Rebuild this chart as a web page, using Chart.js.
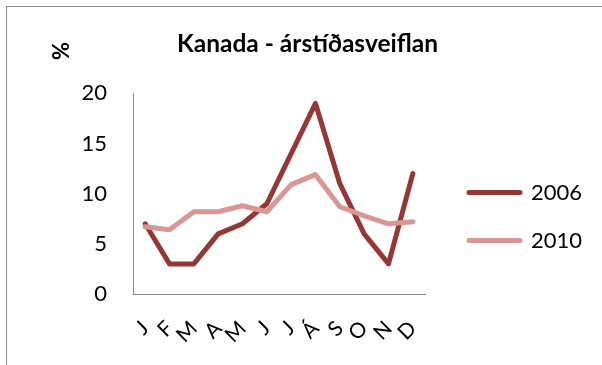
<!DOCTYPE html>
<html>
<head>
<meta charset="utf-8">
<script src="https://cdn.jsdelivr.net/npm/chart.js@4.4.1/dist/chart.umd.min.js"></script>
<style>
  html, body { margin: 0; padding: 0; background: #fff; overflow: hidden; }
  #wrap { position: relative; width: 602px; height: 365px; overflow: hidden; }
  #frame { position: absolute; left: 6px; top: 6px; width: 700px; height: 500px;
           border: 1px solid #8c8c8c; box-sizing: border-box; }
  #c { position: absolute; left: 0; top: 0; }
</style>
</head>
<body>
<div id="wrap">
  <div id="frame"></div>
  <canvas id="c" width="602" height="365"></canvas>
</div>
<script>
// Monthly share of the year's arrivals, in percent
const months = ['J', 'F', 'M', 'A', 'M', 'J', 'J', 'Á', 'S', 'O', 'N', 'D'];
const values2006 = [7, 3, 3, 6, 7, 9, 14, 19, 11, 6, 3, 12];
const values2010 = [6.7, 6.4, 8.2, 8.2, 8.8, 8.2, 10.9, 11.9, 8.7, 7.8, 7.0, 7.2];
const yTickValues = [0, 5, 10, 15, 20];

const FONT = 'Lato, "Open Sans", sans-serif';
const COLOR_2006 = '#953735';
const COLOR_2010 = '#d99694';
const AXIS_COLOR = '#898989';

// Rotated unit label above the value axis, and a nudge for the legend block
const extras = {
  id: 'extras',
  afterLayout(chart) {
    const lg = chart.legend;
    if (!lg) return;
    const dx = 18, dy = 34;
    lg.left += dx; lg.right += dx;
    lg.top += dy; lg.bottom += dy;
  },
  afterDraw(chart) {
    const ctx = chart.ctx;
    ctx.save();
    ctx.translate(62, 51);
    ctx.rotate(-Math.PI / 2);
    ctx.font = 'bold 22px ' + FONT;
    ctx.fillStyle = '#000';
    ctx.textAlign = 'center';
    ctx.textBaseline = 'middle';
    ctx.fillText('%', 0, 0);
    ctx.restore();
  }
};

new Chart(document.getElementById('c'), {
  type: 'line',
  data: {
    labels: months,
    datasets: [
      {
        label: '2006',
        data: values2006,
        borderColor: COLOR_2006,
        backgroundColor: COLOR_2006,
        borderWidth: 5,
        borderJoinStyle: 'round',
        borderCapStyle: 'round',
        pointRadius: 0,
        tension: 0,
        order: 1
      },
      {
        label: '2010',
        data: values2010,
        borderColor: COLOR_2010,
        backgroundColor: COLOR_2010,
        borderWidth: 5,
        borderJoinStyle: 'round',
        borderCapStyle: 'round',
        pointRadius: 0,
        tension: 0,
        order: 0
      }
    ]
  },
  options: {
    responsive: false,
    animation: false,
    events: [],
    layout: { padding: { left: 50, right: 37, top: 0, bottom: 0 } },
    plugins: {
      title: {
        display: true,
        text: 'Kanada - árstíðasveiflan',
        color: '#000',
        font: { family: FONT, size: 24.5, weight: 'bold' },
        padding: { top: 29, bottom: 35 }
      },
      legend: {
        display: true,
        position: 'right',
        maxWidth: 140,
        labels: {
          color: '#000',
          font: { family: FONT, size: 22 },
          boxWidth: 51,
          boxHeight: 0,
          padding: 26,
          sort: (a, b) => a.datasetIndex - b.datasetIndex
        }
      },
      tooltip: { enabled: false }
    },
    scales: {
      x: {
        offset: true,
        grid: { display: false, drawTicks: false },
        border: { display: true, color: AXIS_COLOR, width: 1 },
        ticks: {
          color: '#000',
          font: { family: FONT, size: 21 },
          minRotation: 45,
          maxRotation: 45,
          autoSkip: false,
          padding: 22
        },
        afterFit(scale) { scale.height = 71; }
      },
      y: {
        min: 0,
        max: 20,
        grid: { display: false, drawTicks: false },
        border: { display: true, color: AXIS_COLOR, width: 1 },
        ticks: {
          color: '#000',
          font: { family: FONT, size: 22 },
          padding: 26
        },
        afterBuildTicks(scale) { scale.ticks = yTickValues.map(v => ({ value: v })); },
        afterFit(scale) { scale.width = 83; }
      }
    }
  },
  plugins: [extras]
});
</script>
</body>
</html>
